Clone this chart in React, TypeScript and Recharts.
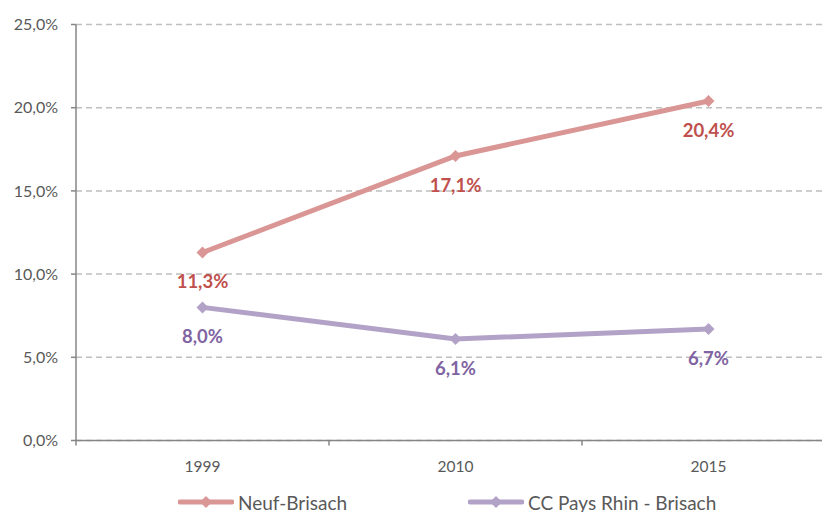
import React from 'react';
import { LineChart, Line, XAxis, YAxis, CartesianGrid, Legend, LabelList } from 'recharts';

const categories = ['1999', '2010', '2015'];
const neufBrisach = [11.3, 17.1, 20.4];
const ccPaysRhin = [8.0, 6.1, 6.7];
const yTicks = [0, 5, 10, 15, 20, 25];
const xTicks = [0, 0.5, 1, 1.5, 2, 2.5, 3];

const seriesNames = ['Neuf-Brisach', 'CC Pays Rhin - Brisach'];
const lineColors = ['#D99694', '#B3A2C7'];
const labelColors = ['#C0504D', '#8064A2'];

const data = categories.map((c, i) => ({
    year: c,
    pos: i + 0.5,
    neuf: neufBrisach[i],
    cc: ccPaysRhin[i],
}));

const FONT = 'Lato, "Open Sans", sans-serif';
const fmt = (v: number) => v.toFixed(1).replace('.', ',') + '%';

const Diamond = (props: any) => {
    const { cx, cy, fill } = props;
    if (cx == null || cy == null) return null;
    const r = 6;
    return <polygon points={`${cx},${cy - r} ${cx + r},${cy} ${cx},${cy + r} ${cx - r},${cy}`} fill={fill} />;
};

const XTick = (props: any) => {
    const { x, y, payload } = props;
    const v = payload.value;
    if (Number.isInteger(v)) {
        return <line x1={x} y1={y} x2={x} y2={y + 5} stroke="#868686" strokeWidth={1.5} />;
    }
    return (
        <text x={x} y={y + 25} textAnchor="middle" dominantBaseline="central" fill="#595959" fontSize={15.5} fontFamily={FONT}>
            {categories[Math.floor(v)]}
        </text>
    );
};

const makeLabel = (color: string) => (props: any) => {
    const { x, y, value } = props;
    return (
        <text x={x} y={y + 29} textAnchor="middle" dominantBaseline="central" fill={color} fontSize={18.5} fontWeight="bold" fontFamily={FONT}>
            {fmt(value)}
        </text>
    );
};

const LegendContent = () => (
    <div style={{ position: 'relative', height: 24, fontFamily: FONT, fontSize: 19, color: '#595959' }}>
        {seriesNames.map((name, i) => (
            <div key={name} style={{ position: 'absolute', left: i === 0 ? 170 : 460, top: 0, display: 'flex', alignItems: 'center', height: 24 }}>
                <svg width={56} height={14}>
                    <line x1={2} y1={7} x2={54} y2={7} stroke={lineColors[i]} strokeWidth={5} strokeLinecap="round" />
                    <polygon points="28,1 34,7 28,13 22,7" fill={lineColors[i]} />
                </svg>
                <span style={{ marginLeft: 4 }}>{name}</span>
            </div>
        ))}
    </div>
);

export default function App() {
    return (
        <div style={{ position: 'absolute', left: 0, top: 0, width: 822, height: 512, overflow: 'hidden' }}>
            <div style={{ position: 'absolute', left: 8, top: 8 }}>
                <LineChart width={840} height={504} data={data} margin={{ top: 16.5, right: 13, left: 0, bottom: 41.5 }}>
                    <CartesianGrid horizontal vertical={false} stroke="#BFBFBF" strokeDasharray="6 4" strokeWidth={1.5} />
                    <XAxis
                        dataKey="pos"
                        type="number"
                        domain={[0, 3]}
                        ticks={xTicks}
                        interval={0}
                        tick={<XTick />}
                        tickLine={false}
                        tickSize={0}
                        tickMargin={0}
                        height={30}
                        axisLine={{ stroke: '#868686', strokeWidth: 1.5 }}
                        allowDataOverflow
                    />
                    <YAxis
                        width={68}
                        domain={[0, 25]}
                        ticks={yTicks}
                        tickFormatter={fmt}
                        tickSize={5}
                        tickMargin={13}
                        tick={{ fill: '#595959', fontSize: 16, fontFamily: FONT }}
                        tickLine={{ stroke: '#868686', strokeWidth: 1.5 }}
                        axisLine={{ stroke: '#868686', strokeWidth: 1.5 }}
                        allowDataOverflow
                    />
                    <Legend
                        layout="horizontal"
                        verticalAlign="middle"
                        wrapperStyle={{ top: 482, left: 0, width: 814 }}
                        content={<LegendContent />}
                    />
                    <Line dataKey="neuf" name={seriesNames[0]} stroke={lineColors[0]} strokeWidth={5} dot={<Diamond fill={lineColors[0]} />} activeDot={false} isAnimationActive={false}>
                        <LabelList dataKey="neuf" content={makeLabel(labelColors[0])} />
                    </Line>
                    <Line dataKey="cc" name={seriesNames[1]} stroke={lineColors[1]} strokeWidth={5} dot={<Diamond fill={lineColors[1]} />} activeDot={false} isAnimationActive={false}>
                        <LabelList dataKey="cc" content={makeLabel(labelColors[1])} />
                    </Line>
                </LineChart>
            </div>
        </div>
    );
}
